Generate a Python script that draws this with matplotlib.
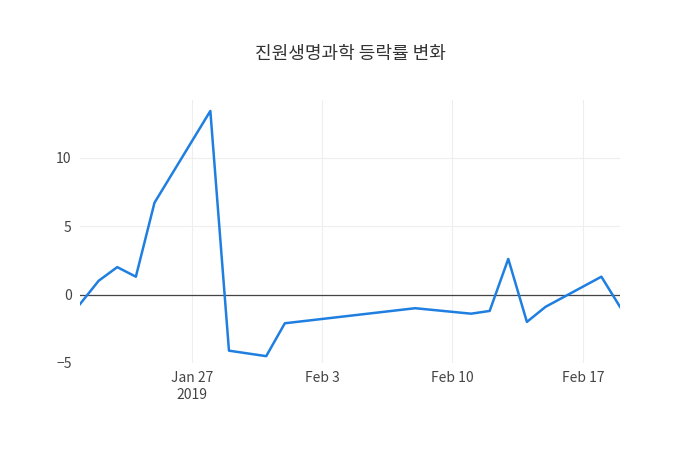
import matplotlib
matplotlib.use("Agg")
import matplotlib.pyplot as plt
import matplotlib.dates as mdates
import numpy as np

plt.rcParams['font.family'] = ['Noto Sans CJK KR', 'DejaVu Sans']

dates = ["2019-01-21", "2019-01-22", "2019-01-23", "2019-01-24", "2019-01-25",
         "2019-01-28", "2019-01-29", "2019-01-31", "2019-02-01", "2019-02-08",
         "2019-02-11", "2019-02-12", "2019-02-13", "2019-02-14", "2019-02-15",
         "2019-02-18", "2019-02-19"]
values = [-0.7, 1.0, 2.0, 1.3, 6.7, 13.4, -4.1, -4.5, -2.1, -1.0,
          -1.4, -1.2, 2.6, -2.0, -0.9, 1.3, -0.9]
tick_dates = ["2019-01-27", "2019-02-03", "2019-02-10", "2019-02-17"]
tick_labels = ["Jan 27\n2019", "Feb 3", "Feb 10", "Feb 17"]

x = np.array(dates, dtype="datetime64[D]")
fig = plt.figure(figsize=(7, 4.5), dpi=100)
ax = fig.add_axes([80/700, 1-363/450, 540/700, 263/450])
ax.plot(x, values, color="#1f7fe0", linewidth=1.8, zorder=3)
ax.axhline(0, color="#444444", linewidth=0.9, zorder=2)
ax.set_xlim(x[0], x[-1])
ax.set_ylim(-5, 14.2)
ax.set_yticks([-5, 0, 5, 10])
ax.set_xticks(np.array(tick_dates, dtype="datetime64[D]"))
ax.set_xticklabels(tick_labels)
ax.grid(color="#eeeeee", linewidth=0.8)
for s in ax.spines.values():
    s.set_visible(False)
ax.tick_params(length=0, labelsize=10, colors="#444444", pad=6)
fig.suptitle("진원생명과학 등락률 변화", y=1-45/450, fontsize=13, color="#333333")
fig.savefig("out.png")
